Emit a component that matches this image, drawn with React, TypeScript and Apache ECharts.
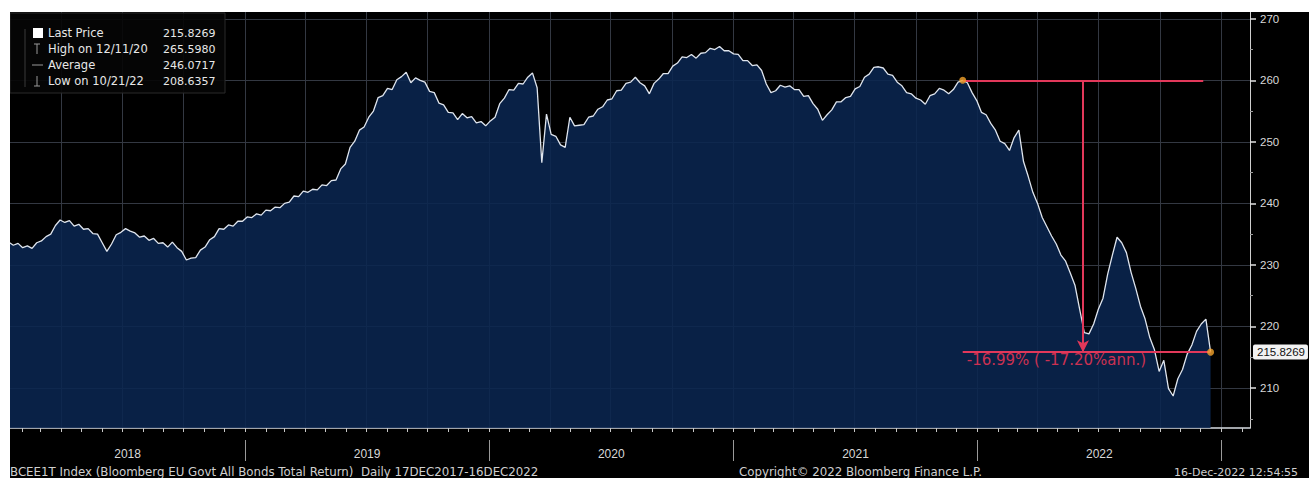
import React, { useEffect, useRef } from "react";
import * as echarts from "echarts";

// ---- data (weekly closes) ----
const FIRST_DATE = "2018-01-12";
const prices = [
  233.7, 233.2, 233.5, 232.8, 233.1, 232.7, 233.6, 233.9, 234.6, 235.0,
  236.4, 237.3, 236.9, 237.2, 236.3, 236.6, 235.8, 235.9, 235.1, 235.0,
  233.6, 232.2, 233.4, 234.9, 235.3, 235.9, 235.5, 235.2, 234.5, 234.7,
  234.0, 234.3, 233.5, 233.6, 232.9, 233.7, 232.8, 232.2, 230.8, 231.1,
  231.2, 232.4, 232.9, 234.1, 234.6, 235.9, 235.8, 236.5, 236.3, 237.1,
  237.1, 237.8, 237.7, 238.3, 238.1, 238.9, 238.8, 239.4, 239.3, 240.0,
  240.2, 241.2, 241.1, 242.0, 241.8, 242.3, 242.2, 243.0, 242.9, 243.7,
  243.8, 245.6, 246.4, 249.1, 250.1, 251.9, 252.4, 254.0, 255.0, 257.2,
  257.5, 258.7, 258.5, 260.1, 260.6, 261.3, 259.6, 260.4, 260.0, 259.7,
  258.2, 258.0, 256.3, 256.0, 254.8, 254.7, 253.6, 254.6, 253.9, 254.1,
  253.1, 253.3, 252.6, 253.4, 254.0, 256.2, 257.1, 258.5, 258.4, 259.5,
  259.4, 260.5, 261.2, 258.8, 246.6, 254.5, 251.2, 250.9, 249.5, 249.1,
  254.0, 252.6, 252.7, 252.8, 254.0, 254.2, 255.3, 255.7, 256.8, 257.0,
  258.3, 258.4, 259.5, 259.7, 260.5, 259.6, 259.1, 257.8, 259.5, 260.2,
  261.1, 261.1, 262.3, 262.8, 263.8, 263.7, 264.2, 263.6, 264.4, 264.5,
  265.2, 265.0, 265.5, 264.8, 264.8, 264.3, 264.2, 263.2, 263.2, 262.4,
  262.5, 261.6, 259.4, 258.0, 258.3, 259.2, 258.9, 259.1, 258.5, 258.5,
  257.4, 257.5, 256.2, 255.3, 253.5, 254.4, 255.2, 256.5, 256.5, 257.2,
  257.4, 258.6, 259.0, 260.5, 261.0, 262.1, 262.2, 262.0, 261.0, 260.8,
  259.7, 259.1, 258.0, 257.8, 257.1, 256.8, 256.1, 257.5, 257.8, 258.7,
  258.4, 257.8, 258.5, 259.7, 260.0, 259.6, 258.0, 256.7, 254.8, 254.4,
  253.0, 251.9, 250.1, 249.7, 248.6, 250.7, 251.9, 246.8, 244.4, 241.8,
  240.0, 237.7, 236.2, 234.7, 233.4, 231.6, 230.6, 228.7, 226.7, 222.8,
  219.0, 218.8, 220.4, 222.8, 224.6, 228.5, 231.6, 234.5, 233.6, 232.0,
  228.8, 226.2, 223.3, 221.2, 218.2, 216.2, 212.7, 214.5, 209.9, 208.7,
  211.5, 213.0, 215.5, 217.0, 219.2, 220.4, 221.2, 215.8269,
];

const Y_TICKS = [210, 220, 230, 240, 250, 260, 270];
const Y_MINOR = [205, 215, 225, 235, 245, 255, 265];
const YEAR_LABELS = ["2018", "2019", "2020", "2021", "2022"];

const LEGEND_LABELS = ["Last Price", "High on 12/11/20", "Average", "Low on 10/21/22"];
const LEGEND_VALUES = ["215.8269", "265.5980", "246.0717", "208.6357"];

const LAST_PRICE = 215.8269;
const MEASURE_START_DATE = "2021-12-10";
const MEASURE_START_VALUE = 260.0;
const MEASURE_TOP_END_DATE = "2022-12-05";
const MEASURE_END_DATE = "2022-12-16";
const ARROW_DATE = "2022-06-08";
const CHANGE_LABEL = "-16.99% ( -17.20%ann.)";

const FOOTER_LEFT = "BCEE1T Index (Bloomberg EU Govt All Bonds Total Return)  Daily 17DEC2017-16DEC2022";
const FOOTER_MID = "Copyright\u00A9 2022 Bloomberg Finance L.P.";
const FOOTER_RIGHT = "16-Dec-2022 12:54:55";

// ---- helpers ----
const DAY = 86400000;
const t = (s: string) => {
  const [y, m, d] = s.split("-").map(Number);
  return Date.UTC(y, m - 1, d);
};
const X_MIN = t("2018-01-14");
const X_MAX = t("2023-02-13");

const FONT = '"Liberation Sans", Arial, sans-serif';
const WIDE = '"DejaVu Sans", "Liberation Sans", sans-serif';
const RED = "#e2385a";

export default function App() {
  const ref = useRef<HTMLDivElement>(null);

  useEffect(() => {
    if (!ref.current) return;
    document.body.style.margin = "0";
    const chart = echarts.init(ref.current, undefined, { renderer: "svg" });

    const t0 = t(FIRST_DATE);
    const series = prices.map((v, i) => [t0 + i * 7 * DAY, v]);

    const months: number[] = [];
    const quarters: number[] = [];
    const years: number[] = [];
    for (let y = 2018; y <= 2023; y++) {
      for (let m = 0; m < 12; m++) {
        const v = Date.UTC(y, m, 1);
        if (v <= X_MIN || v >= X_MAX) continue;
        months.push(v);
        if (m % 3 === 0) quarters.push(v);
        if (m === 0) years.push(v);
      }
    }
    const yearCenters = YEAR_LABELS.map((lab) => {
      const y = Number(lab);
      const a = Math.max(X_MIN, Date.UTC(y, 0, 1));
      const b = Date.UTC(y + 1, 0, 1);
      return (a + b) / 2;
    });

    const baseX = {
      type: "value",
      min: X_MIN,
      max: X_MAX,
      gridIndex: 0,
      position: "bottom",
      scale: true,
    };

    const legendGraphics: any[] = [
      {
        type: "rect",
        shape: { x: 0, y: 1, width: 215, height: 80 },
        style: { fill: "rgba(5,5,5,0.9)", stroke: "#2a2a2a", lineWidth: 1 },
        z: 100,
      },
      { type: "line", shape: { x1: 15, y1: 17, x2: 15, y2: 75 }, style: { stroke: "#3a3a3a", lineWidth: 1 }, z: 101 },
      { type: "rect", shape: { x: 23, y: 16, width: 10, height: 10 }, style: { fill: "#ffffff" }, z: 101 },
      { type: "line", shape: { x1: 27, y1: 32, x2: 27, y2: 42 }, style: { stroke: "#9a9a9a", lineWidth: 1 }, z: 101 },
      { type: "line", shape: { x1: 24, y1: 32, x2: 30, y2: 32 }, style: { stroke: "#9a9a9a", lineWidth: 1 }, z: 101 },
      { type: "line", shape: { x1: 22, y1: 53, x2: 33, y2: 53 }, style: { stroke: "#9a9a9a", lineWidth: 1 }, z: 101 },
      { type: "line", shape: { x1: 27, y1: 64, x2: 27, y2: 74 }, style: { stroke: "#9a9a9a", lineWidth: 1 }, z: 101 },
      { type: "line", shape: { x1: 24, y1: 74, x2: 30, y2: 74 }, style: { stroke: "#9a9a9a", lineWidth: 1 }, z: 101 },
    ];
    LEGEND_LABELS.forEach((lab, i) => {
      const y = 21 + i * 16;
      legendGraphics.push({
        type: "text",
        style: { text: lab, x: 38, y, fill: "#e8e8e8", fontSize: 11.5, fontFamily: WIDE, verticalAlign: "middle" },
        z: 102,
      });
      legendGraphics.push({
        type: "text",
        style: { text: LEGEND_VALUES[i], x: 153, y, fill: "#e8e8e8", fontSize: 11, fontFamily: WIDE, verticalAlign: "middle" },
        z: 102,
      });
    });

    const footer = [
      { text: FOOTER_LEFT, x: 0, size: 11.8 },
      { text: FOOTER_MID, x: 729, size: 11.8 },
      { text: FOOTER_RIGHT, x: 1164, size: 11 },
    ].map((f) => ({
      type: "text",
      style: { text: f.text, x: f.x, y: 460, fill: "#cfcfcf", fontSize: f.size, fontFamily: WIDE, verticalAlign: "middle" },
      z: 102,
    }));

    chart.setOption({
      animation: false,
      backgroundColor: "#000000",
      grid: { left: 0, top: 0, right: 59, bottom: 50, containLabel: false },
      xAxis: [
        {
          ...baseX,
          axisLine: { show: true, lineStyle: { color: "#d6dbe2", width: 1.5 } },
          axisTick: { show: true, length: 4, customValues: months, lineStyle: { color: "#c8c8c8" } },
          axisLabel: { show: false },
          splitLine: { show: false },
        },
        {
          ...baseX,
          axisLine: { show: false },
          axisTick: { show: false, customValues: quarters },
          axisLabel: { show: false },
          splitLine: { show: true, lineStyle: { color: "#333842", width: 1 } },
        },
        {
          ...baseX,
          offset: 12,
          axisLine: { show: false },
          axisTick: { show: true, length: 21, customValues: years, lineStyle: { color: "#9a9a9a", width: 1 } },
          axisLabel: {
            show: true,
            customValues: yearCenters,
            margin: 8,
            color: "#d8d8d8",
            fontSize: 12,
            fontFamily: FONT,
            formatter: (v: number) => {
              const idx = yearCenters.findIndex((c) => Math.abs(c - v) < DAY);
              return idx >= 0 ? YEAR_LABELS[idx] : "";
            },
          },
          splitLine: { show: false },
        },
      ],
      yAxis: [
        {
          type: "value",
          position: "right",
          min: 203.5,
          max: 271.1,
          axisLine: { show: true, lineStyle: { color: "#cfcfcf", width: 1 } },
          axisTick: { show: true, length: 6, customValues: Y_TICKS, lineStyle: { color: "#e0e0e0", width: 1.5 } },
          axisLabel: { show: true, customValues: Y_TICKS, color: "#d8d8d8", fontSize: 11.5, fontFamily: FONT, margin: 10 },
          splitLine: { show: true, lineStyle: { color: "#333842", width: 1 } },
        },
        {
          type: "value",
          position: "right",
          min: 203.5,
          max: 271.1,
          axisLine: { show: false },
          axisTick: { show: true, length: 3, customValues: Y_MINOR, lineStyle: { color: "#9a9a9a" } },
          axisLabel: { show: false },
          splitLine: { show: false },
        },
      ],
      graphic: [...legendGraphics, ...footer],
      series: [
        {
          type: "line",
          data: series,
          xAxisIndex: 0,
          yAxisIndex: 0,
          showSymbol: false,
          symbol: "none",
          lineStyle: { color: "#dfe5ee", width: 1.3 },
          areaStyle: { color: "#0a2650", opacity: 0.88, origin: "start" },
          z: 2,
          markLine: {
            silent: true,
            symbol: ["none", "none"],
            label: { show: false },
            data: [
              [
                {
                  coord: [t(MEASURE_START_DATE), MEASURE_START_VALUE],
                  lineStyle: { color: RED, width: 2, type: "solid" },
                },
                { coord: [t(MEASURE_TOP_END_DATE), MEASURE_START_VALUE] },
              ],
              [
                {
                  coord: [t(ARROW_DATE), MEASURE_START_VALUE],
                  symbol: "none",
                  lineStyle: { color: RED, width: 2, type: "solid" },
                },
                { coord: [t(ARROW_DATE), LAST_PRICE], symbol: "arrow", symbolSize: [9, 12] },
              ],
              [
                {
                  coord: [t(MEASURE_START_DATE), LAST_PRICE],
                  lineStyle: { color: RED, width: 2, type: "solid" },
                  label: {
                    show: true,
                    position: "insideStartBottom",
                    formatter: CHANGE_LABEL,
                    color: "#cc3152",
                    fontSize: 15,
                    fontFamily: WIDE,
                    distance: 0,
                    padding: [0, 0, 0, 4],
                  },
                },
                { coord: [t(MEASURE_END_DATE), LAST_PRICE] },
              ],
              {
                yAxis: LAST_PRICE,
                lineStyle: { color: "rgba(0,0,0,0)", width: 0 },
                label: {
                  show: true,
                  position: "end",
                  distance: 3,
                  formatter: "215.8269",
                  color: "#111111",
                  backgroundColor: "#f2f2f2",
                  padding: [2, 3, 1, 4],
                  borderRadius: 2,
                  fontSize: 11.5,
                  fontFamily: FONT,
                },
              },
            ],
          },
        },
        {
          type: "scatter",
          xAxisIndex: 0,
          yAxisIndex: 0,
          data: [
            [t(MEASURE_START_DATE), MEASURE_START_VALUE],
            [t(MEASURE_END_DATE), LAST_PRICE],
          ],
          symbolSize: 7,
          itemStyle: { color: "#f2a32a" },
          z: 5,
          silent: true,
        },
      ],
    });

    return () => chart.dispose();
  }, []);

  return (
    <div style={{ position: "relative", width: 1309, height: 478, background: "#ffffff", overflow: "hidden" }}>
      <div ref={ref} style={{ position: "absolute", left: 10, top: 12, width: 1299, height: 466 }} />
    </div>
  );
}
